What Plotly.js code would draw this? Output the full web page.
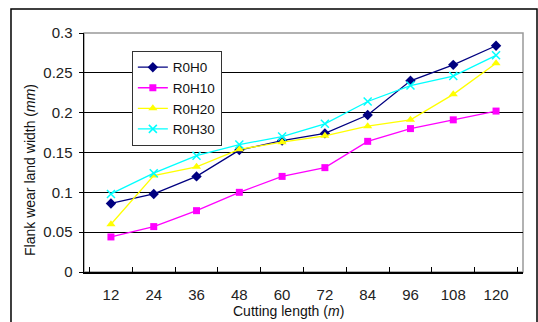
<!DOCTYPE html>
<html>
<head>
<meta charset="utf-8">
<script src="https://cdn.plot.ly/plotly-3.0.1.min.js"></script>
<style>html,body{margin:0;padding:0;background:#fff;}#chart{width:538px;height:322px;}</style>
</head>
<body>
<div id="chart"></div>
<script>
const categories = ["12","24","36","48","60","72","84","96","108","120"];
const r0h0  = [0.086,0.098,0.120,0.153,0.165,0.174,0.197,0.240,0.260,0.284];
const r0h10 = [0.044,0.057,0.077,0.100,0.120,0.131,0.164,0.180,0.191,0.202];
const r0h20 = [0.060,0.121,0.132,0.154,0.163,0.171,0.183,0.191,0.223,0.262];
const r0h30 = [0.098,0.124,0.146,0.160,0.170,0.186,0.214,0.234,0.246,0.272];
const seriesNames = ["R0H0","R0H10","R0H20","R0H30"];
const xTitle = "Cutting length (<i>m</i>)";
const yTitle = "Flank wear land width (<i>mm</i>)";

const font = "Liberation Sans, Arial, sans-serif";
const traces = [
  {x: categories, y: r0h0, name: seriesNames[0], mode: "lines+markers",
   line: {color: "#000080", width: 1.3}, marker: {symbol: "diamond", size: 8, color: "#000080"}},
  {x: categories, y: r0h10, name: seriesNames[1], mode: "lines+markers",
   line: {color: "#FF00FF", width: 1.3}, marker: {symbol: "square", size: 7, color: "#FF00FF"}},
  {x: categories, y: r0h20, name: seriesNames[2], mode: "lines+markers",
   line: {color: "#FFFF00", width: 1.3}, marker: {symbol: "triangle-up", size: 8, color: "#FFFF00"}},
  {x: categories, y: r0h30, name: seriesNames[3], mode: "lines+markers",
   line: {color: "#00FFFF", width: 1.3}, marker: {symbol: "x-thin-open", size: 8, color: "#00FFFF", line: {color: "#00FFFF", width: 1.5}}}
];

const layout = {
  width: 538, height: 322,
  margin: {l: 84, r: 15, t: 33, b: 50},
  paper_bgcolor: "#fff", plot_bgcolor: "#fff",
  font: {family: font, size: 14, color: "#222"},
  showlegend: true,
  legend: {x: 0.109, y: 0.925, xanchor: "left", yanchor: "top",
           bgcolor: "#fff", bordercolor: "#333", borderwidth: 1, itemwidth: 30,
           font: {family: font, size: 13.5, color: "#111"}, tracegroupgap: 0},
  xaxis: {type: "category", showgrid: false, showline: true, linecolor: "#000", linewidth: 1.5,
          ticks: "inside", tickson: "boundaries", ticklen: 5, tickcolor: "#000",
          ticklabelstandoff: 8,
          tickfont: {family: font, size: 15, color: "#222"},
          zeroline: false, fixedrange: true},
  yaxis: {range: [0, 0.3], dtick: 0.05, tickformat: "", showgrid: true, gridcolor: "#000", gridwidth: 1,
          showline: true, linecolor: "#000", linewidth: 1.5, ticks: "outside", ticklen: 4, tickcolor: "#000",
          ticklabelstandoff: 3,
          tickfont: {family: font, size: 15, color: "#222"},
          zeroline: false, fixedrange: true},
  annotations: [
    {text: xTitle, xref: "paper", yref: "paper", x: 0.465, y: -0.163, xanchor: "center", yanchor: "middle",
     showarrow: false, font: {family: font, size: 14, color: "#111"}},
    {text: yTitle, xref: "paper", yref: "paper", x: -0.123, y: 0.427, xanchor: "center", yanchor: "middle",
     textangle: -90, showarrow: false, font: {family: font, size: 14, color: "#111"}}
  ],
  shapes: [
    {type: "rect", xref: "paper", yref: "paper", x0: 0, x1: 1, y0: 0, y1: 1,
     line: {color: "#999", width: 1.5}, layer: "below"},
    {type: "rect", xref: "paper", yref: "paper", x0: -0.1663, x1: 1.0319, y0: -0.25, y1: 1.1004,
     line: {color: "#000", width: 1.5}, layer: "below"}
  ]
};

Plotly.newPlot("chart", traces, layout, {displayModeBar: false, staticPlot: true});
</script>
</body>
</html>
